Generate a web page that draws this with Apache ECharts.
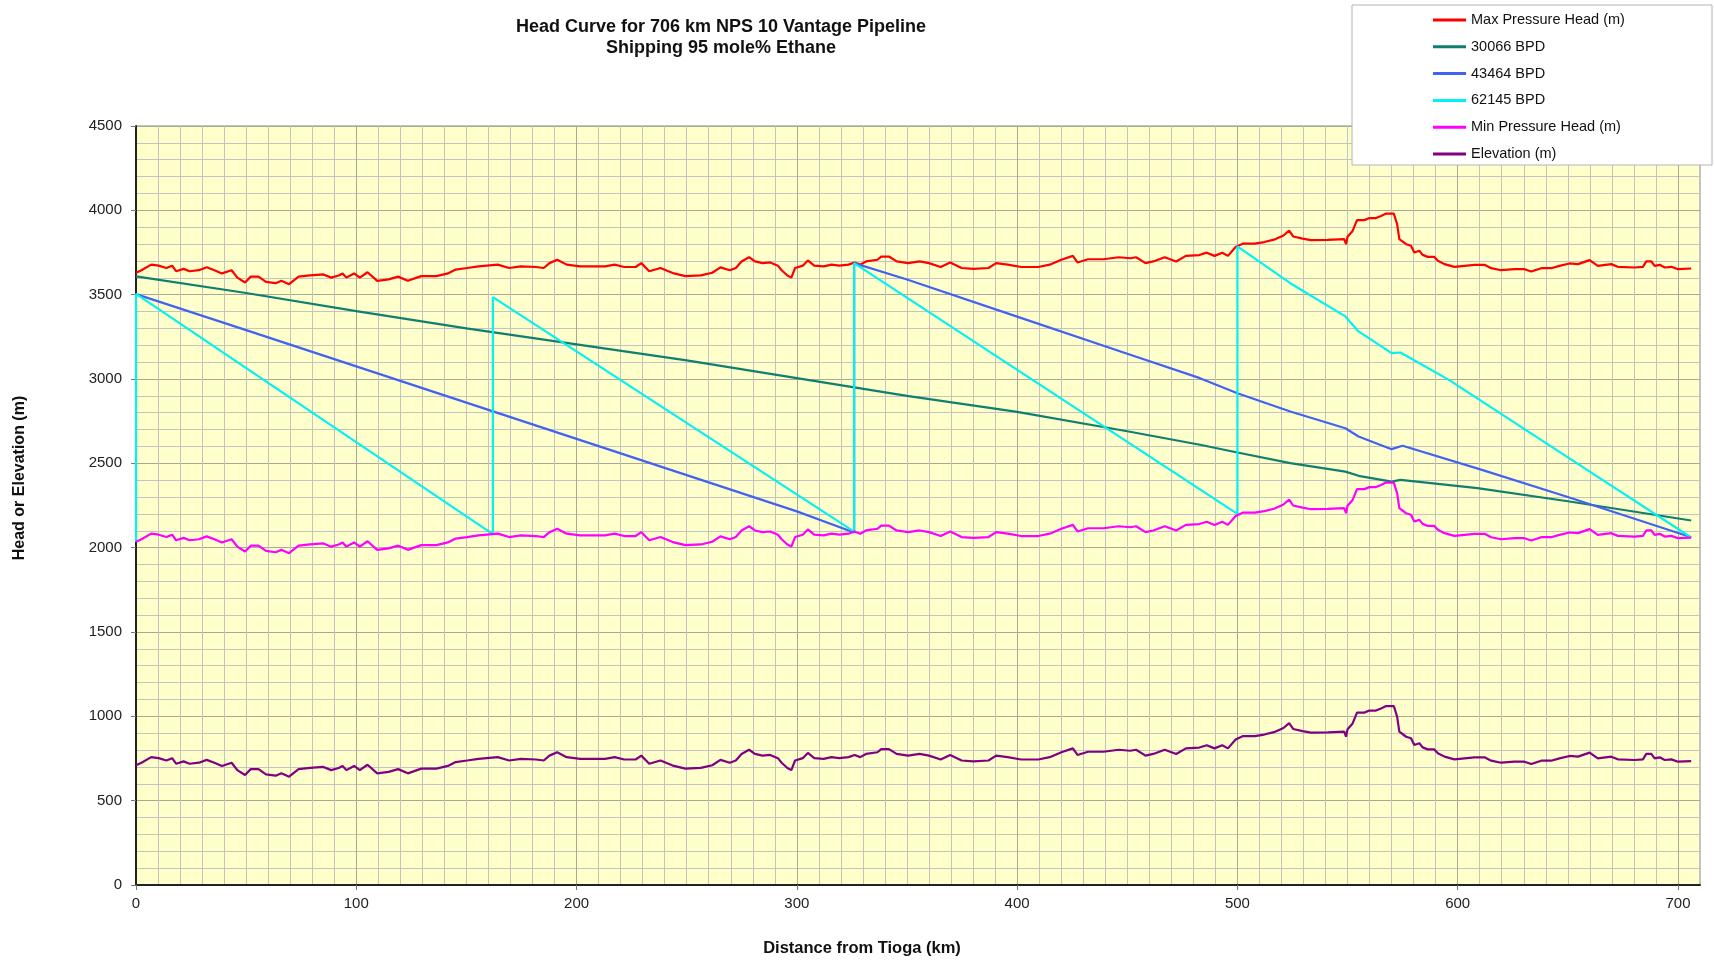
<!DOCTYPE html>
<html>
<head>
<meta charset="utf-8">
<title>Head Curve for 706 km NPS 10 Vantage Pipeline</title>
<script src="https://cdn.jsdelivr.net/npm/echarts@6/dist/echarts.min.js"></script>
<style>
    html, body { margin: 0; padding: 0; background: #fff; }
    #main { width: 1714px; height: 960px; }
</style>
</head>
<body>
<div id="main"></div>
<script>
// profile along the line (km from Tioga) - shared by elevation, max and min head
var profileKm = [0, 2.5, 6.9, 10.3, 13.8, 16.4, 18.2, 21.6, 24.3, 28.6, 32.1, 35.6, 39, 43.4, 46, 49.5, 52.1, 55.6, 59, 63.4,
    66, 69.5, 73.8, 79, 85.1, 88.6, 92, 93.8, 95.5, 99, 101.6, 105.1, 109.5, 114.7, 119, 123.4, 129.5, 136.4, 141.6, 145.1,
    150.3, 155.5, 164.2, 169.4, 174.7, 181.6, 185.1, 187.7, 191.2, 195.5, 201.6, 207.7, 212.9, 217.3, 221.6, 226.8, 229.4, 233, 238.1, 244.2,
    249.4, 256.4, 261.6, 265.3, 269.6, 272.3, 274.9, 278.3, 281, 284.4, 287.9, 291.4, 293.1, 295.7, 297.5, 299.2, 302.7, 305, 307.9, 312.2,
    315.7, 319.2, 323.5, 326.2, 328.8, 331.4, 336.6, 338.3, 341.8, 345.3, 350.5, 355.7, 360, 365.3, 369.6, 374.8, 380.1, 387, 390.5, 395.7,
    401.8, 409.6, 414.8, 420.1, 425.3, 427.4, 432.2, 439.2, 446.1, 451.4, 454, 458.3, 461.8, 467, 472.2, 476.6, 482.7, 486.1, 489.6, 493.1,
    495.7, 499.2, 502.6, 507.9, 512.2, 516.6, 520.9, 523.5, 525.3, 529.6, 533.4, 541, 548.5, 549.3, 550, 552.3, 554.3, 557.6, 559.9, 562.9,
    565.2, 567.5, 571, 572.5, 573.5, 576.6, 578.8, 580.3, 582.6, 584.1, 586.4, 589.4, 591, 594, 598.5, 603.1, 607.6, 612.2, 615.2, 619.7,
    625.8, 630.3, 633.4, 637.9, 642.4, 646.2, 650.8, 654.6, 659.9, 663.6, 669.7, 672.7, 680.3, 684.1, 685.6, 687.9, 689.4, 691.7, 694, 697,
    700, 706];

var elevation = [710, 725, 758, 752, 738, 752, 719, 733, 719, 725, 742, 725, 706, 725, 681, 652, 687, 687, 656, 648,
    662, 642, 687, 694, 700, 681, 694, 706, 681, 706, 681, 713, 662, 671, 687, 662, 690, 690, 706, 729,
    738, 748, 758, 738, 748, 744, 738, 767, 787, 758, 748, 748, 748, 758, 744, 744, 767, 719, 738, 706,
    690, 694, 710, 742, 725, 738, 777, 802, 777, 767, 771, 752, 725, 694, 681, 738, 752, 783, 752, 748,
    758, 752, 758, 771, 758, 777, 787, 806, 806, 777, 767, 777, 767, 744, 771, 738, 733, 738, 767, 758,
    744, 744, 758, 787, 810, 771, 790, 790, 802, 796, 802, 767, 777, 802, 777, 810, 815, 829, 810, 829,
    810, 863, 883, 883, 892, 906, 931, 960, 925, 912, 903, 905, 909, 879, 923, 958, 1022, 1022, 1034, 1034,
    1047, 1061, 1061, 998, 909, 879, 870, 830, 840, 816, 804, 804, 781, 761, 745, 751, 757, 757, 737, 725,
    731, 731, 717, 737, 737, 751, 765, 761, 785, 751, 761, 745, 741, 745, 777, 777, 751, 757, 741, 745,
    731, 735];

var maxHead = [3630, 3645, 3678, 3672, 3658, 3672, 3639, 3653, 3639, 3645, 3662, 3645, 3626, 3645, 3601, 3572, 3607, 3607, 3576, 3568,
    3582, 3562, 3607, 3614, 3620, 3601, 3614, 3626, 3601, 3626, 3601, 3633, 3582, 3591, 3607, 3582, 3610, 3610, 3626, 3649,
    3658, 3668, 3678, 3658, 3668, 3664, 3658, 3687, 3707, 3678, 3668, 3668, 3668, 3678, 3664, 3664, 3687, 3639, 3658, 3626,
    3610, 3614, 3630, 3662, 3645, 3658, 3697, 3722, 3697, 3687, 3691, 3672, 3645, 3614, 3601, 3658, 3672, 3703, 3672, 3668,
    3678, 3672, 3678, 3691, 3678, 3697, 3707, 3726, 3726, 3697, 3687, 3697, 3687, 3664, 3691, 3658, 3653, 3658, 3687, 3678,
    3664, 3664, 3678, 3707, 3730, 3691, 3710, 3710, 3722, 3716, 3722, 3687, 3697, 3722, 3697, 3730, 3735, 3749, 3730, 3749,
    3730, 3783, 3803, 3803, 3812, 3826, 3851, 3880, 3845, 3832, 3823, 3825, 3829, 3799, 3843, 3878, 3942, 3942, 3954, 3954,
    3967, 3981, 3981, 3918, 3829, 3799, 3790, 3750, 3760, 3736, 3724, 3724, 3701, 3681, 3665, 3671, 3677, 3677, 3657, 3645,
    3651, 3651, 3637, 3657, 3657, 3671, 3685, 3681, 3705, 3671, 3681, 3665, 3661, 3665, 3697, 3697, 3671, 3677, 3661, 3665,
    3651, 3655];

var minHead = [2035, 2050, 2083, 2077, 2063, 2077, 2044, 2058, 2044, 2050, 2067, 2050, 2031, 2050, 2006, 1977, 2012, 2012, 1981, 1973,
    1987, 1967, 2012, 2019, 2025, 2006, 2019, 2031, 2006, 2031, 2006, 2038, 1987, 1996, 2012, 1987, 2015, 2015, 2031, 2054,
    2063, 2073, 2083, 2063, 2073, 2069, 2063, 2092, 2112, 2083, 2073, 2073, 2073, 2083, 2069, 2069, 2092, 2044, 2063, 2031,
    2015, 2019, 2035, 2067, 2050, 2063, 2102, 2127, 2102, 2092, 2096, 2077, 2050, 2019, 2006, 2063, 2077, 2108, 2077, 2073,
    2083, 2077, 2083, 2096, 2083, 2102, 2112, 2131, 2131, 2102, 2092, 2102, 2092, 2069, 2096, 2063, 2058, 2063, 2092, 2083,
    2069, 2069, 2083, 2112, 2135, 2096, 2115, 2115, 2127, 2121, 2127, 2092, 2102, 2127, 2102, 2135, 2140, 2154, 2135, 2154,
    2135, 2188, 2208, 2208, 2217, 2231, 2256, 2285, 2250, 2237, 2228, 2230, 2234, 2204, 2248, 2283, 2347, 2347, 2359, 2359,
    2372, 2386, 2386, 2323, 2234, 2204, 2195, 2155, 2165, 2141, 2129, 2129, 2106, 2086, 2070, 2076, 2082, 2082, 2062, 2050,
    2056, 2056, 2042, 2062, 2062, 2076, 2090, 2086, 2110, 2076, 2086, 2070, 2066, 2070, 2102, 2102, 2076, 2082, 2066, 2070,
    2056, 2060];

// hydraulic gradients for the three flow rates
var km30066 = [0, 50, 100, 150, 200, 250, 300, 350, 400, 450, 483, 500, 524, 549, 555, 570, 574, 609, 650, 706];
var head30066 = [3608, 3510, 3402, 3300, 3205, 3110, 3005, 2900, 2805, 2690, 2610, 2564, 2501, 2451, 2426, 2392, 2402, 2353, 2275, 2161];

var km43464 = [0, 50, 100, 150, 200, 250, 300, 326, 326, 350, 400, 450, 483, 500, 524, 549, 555, 570, 575, 611, 650, 706];
var head43464 = [3503, 3290, 3075, 2860, 2645, 2430, 2215, 2090, 3687, 3590, 3370, 3150, 3005, 2916, 2807, 2708, 2659, 2584, 2604, 2461, 2300, 2062];

var km62145 = [0, 0, 162, 162, 326, 326, 500, 500, 524, 549, 555, 570, 574, 596, 661, 706];
var head62145 = [2035, 3505, 2080, 3485, 2095, 3687, 2200, 3786, 3568, 3371, 3282, 3153, 3157, 2995, 2442, 2060];

var seriesNames = ['Max Pressure Head (m)', '30066 BPD', '43464 BPD', '62145 BPD', 'Min Pressure Head (m)', 'Elevation (m)'];
var seriesColors = ['#ff0000', '#117f70', '#4262f2', '#00f2f2', '#ff00ff', '#800080'];

var font = 'Liberation Sans, Arial, sans-serif';
var majorGrid = '#a9a897';
var minorGrid = '#c4c4be';

function pairs(xs, ys) {
    var out = [];
    for (var i = 0; i < xs.length; i++) {
        out.push([xs[i], ys[i]]);
    }
    return out;
}

// one darker line followed by (n-1) light ones, cycled by echarts
function gridColors(n) {
    var c = [majorGrid];
    for (var i = 1; i < n; i++) c.push(minorGrid);
    return c;
}

function lineSeries(idx, data) {
    return {
        name: seriesNames[idx],
        type: 'line',
        xAxisIndex: 0,
        yAxisIndex: 0,
        data: data,
        showSymbol: false,
        symbol: 'none',
        color: seriesColors[idx],
        lineStyle: { width: 2.2, color: seriesColors[idx] },
        z: 2 + idx
    };
}

var myChart = echarts.init(document.getElementById('main'));

var option = {
    animation: false,
    backgroundColor: '#ffffff',
    textStyle: { fontFamily: font },
    title: {
        text: 'Head Curve for 706 km NPS 10 Vantage Pipeline\nShipping 95 mole% Ethane',
        left: 716,
        top: 12,
        textAlign: 'center',
        textStyle: { fontSize: 18, fontWeight: 'bold', lineHeight: 21, color: '#111', fontFamily: font }
    },
    legend: {
        orient: 'vertical',
        left: 1433,
        top: 12.5,
        z: 6,
        icon: 'rect',
        itemWidth: 33,
        itemHeight: 3,
        itemGap: 11.8,
        padding: 0,
        data: seriesNames,
        textStyle: { fontSize: 14.5, color: '#111', lineHeight: 15, fontFamily: font }
    },
    grid: {
        left: 136,
        right: 14,
        top: 126,
        bottom: 75,
        show: true,
        backgroundColor: '#ffffcc',
        borderColor: '#8a8a8a',
        borderWidth: 1
    },
    xAxis: [
        {
            type: 'value',
            min: 0,
            max: 710,
            interval: 100,
            axisLine: { show: true, onZero: false, lineStyle: { color: '#222', width: 2 } },
            axisTick: { show: true, length: 5, lineStyle: { color: '#777' } },
            axisLabel: {
                margin: 11,
                fontSize: 15,
                color: '#222',
                showMaxLabel: false,
                formatter: function (v) { return v % 100 === 0 ? String(v) : ''; }
            },
            splitLine: { show: false }
        },
        {
            type: 'value',
            min: 0,
            max: 710,
            interval: 10,
            position: 'top',
            axisLine: { show: false },
            axisTick: { show: false },
            axisLabel: { show: false },
            splitLine: { show: true, lineStyle: { color: gridColors(10), width: 1 } }
        }
    ],
    yAxis: [
        {
            type: 'value',
            min: 0,
            max: 4500,
            interval: 500,
            axisLine: { show: true, onZero: false, lineStyle: { color: '#222', width: 2 } },
            axisTick: { show: true, length: 5, lineStyle: { color: '#777' } },
            axisLabel: {
                margin: 14,
                fontSize: 15,
                color: '#222',
                formatter: function (v) { return String(v); }
            },
            splitLine: { show: false }
        },
        {
            type: 'value',
            min: 0,
            max: 4500,
            interval: 100,
            position: 'right',
            axisLine: { show: false },
            axisTick: { show: false },
            axisLabel: { show: false },
            splitLine: { show: true, lineStyle: { color: gridColors(5), width: 1 } }
        }
    ],
    graphic: [
        {
            // legend frame, sits over the corner of the plot
            type: 'rect',
            z: 5,
            shape: { x: 1352, y: 5, width: 360, height: 160 },
            style: { fill: '#ffffff', stroke: '#b4b4b4', lineWidth: 1 }
        },
        {
            type: 'text',
            z: 5,
            x: 20,
            y: 478,
            rotation: Math.PI / 2,
            style: {
                text: 'Head or Elevation (m)',
                fontSize: 16,
                fontWeight: 'bold',
                fontFamily: font,
                fill: '#111',
                textAlign: 'center',
                textVerticalAlign: 'middle'
            }
        },
        {
            type: 'text',
            z: 5,
            x: 862,
            y: 948,
            style: {
                text: 'Distance from Tioga (km)',
                fontSize: 16.5,
                fontWeight: 'bold',
                fontFamily: font,
                fill: '#111',
                textAlign: 'center',
                textVerticalAlign: 'middle'
            }
        }
    ],
    series: [
        lineSeries(0, pairs(profileKm, maxHead)),
        lineSeries(1, pairs(km30066, head30066)),
        lineSeries(2, pairs(km43464, head43464)),
        lineSeries(3, pairs(km62145, head62145)),
        lineSeries(4, pairs(profileKm, minHead)),
        lineSeries(5, pairs(profileKm, elevation))
    ]
};

myChart.setOption(option);
</script>
</body>
</html>
